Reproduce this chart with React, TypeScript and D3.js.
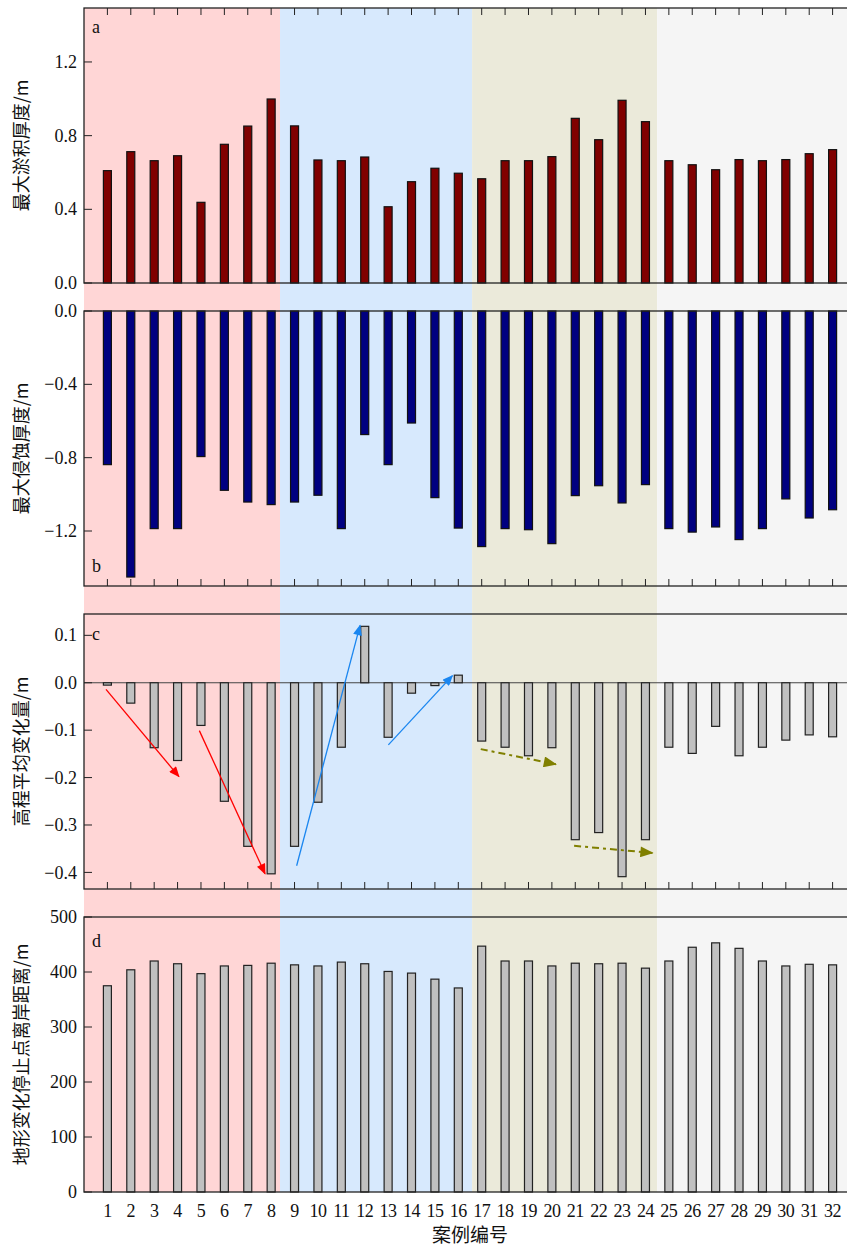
import * as d3 from 'd3'

// case numbers 1..32
const cases = d3.range(1, 33)

// a: max deposition thickness (m)
const deposition = [
  0.61, 0.713, 0.664, 0.691, 0.438, 0.753, 0.852, 0.999,
  0.853, 0.668, 0.664, 0.684, 0.414, 0.55, 0.623, 0.596,
  0.566, 0.664, 0.664, 0.686, 0.894, 0.778, 0.992, 0.876,
  0.664, 0.642, 0.615, 0.67, 0.664, 0.67, 0.702, 0.724,
]
// b: max erosion thickness (m)
const erosion = [
  -0.838, -1.451, -1.187, -1.187, -0.794, -0.978, -1.042, -1.056,
  -1.042, -1.005, -1.187, -0.674, -0.838, -0.611, -1.018, -1.184,
  -1.285, -1.187, -1.193, -1.269, -1.007, -0.953, -1.047, -0.947,
  -1.187, -1.206, -1.178, -1.247, -1.187, -1.025, -1.129, -1.084,
]
// c: mean elevation change (m)
const elevChange = [
  -0.005, -0.043, -0.137, -0.164, -0.09, -0.25, -0.345, -0.403,
  -0.345, -0.252, -0.136, 0.119, -0.115, -0.022, -0.006, 0.016,
  -0.123, -0.136, -0.154, -0.137, -0.331, -0.316, -0.409, -0.331,
  -0.136, -0.149, -0.092, -0.154, -0.136, -0.121, -0.11, -0.114,
]
// d: offshore distance where bed change stops (m)
const stopDistance = [
  375, 404, 420, 415, 397, 411, 412, 416,
  413, 411, 418, 415, 401, 398, 387, 371,
  447, 420, 420, 411, 416, 415, 416, 407,
  420, 445, 453, 443, 420, 411, 414, 413,
]

// background groups (in case units)
const groupEdges = [0, 8.38, 16.59, 24.5, 33]
const groupColors = ['#ffd6d6', '#d7e9fd', '#ebeada', '#f5f5f5']

// trend arrows in panel c: [case, value] -> [case, value]
const arrowsC = [
  { from: [0.94, -0.014], to: [4.06, -0.198], color: '#ff0000', dash: null },
  { from: [4.93, -0.101], to: [7.74, -0.403], color: '#ff0000', dash: null },
  { from: [9.09, -0.386], to: [11.8, 0.121], color: '#1a86f0', dash: null },
  { from: [13.01, -0.131], to: [15.75, 0.015], color: '#1a86f0', dash: null },
  { from: [16.96, -0.14], to: [20.17, -0.172], color: '#808000', dash: '7,4,3,4' },
  { from: [20.95, -0.344], to: [24.3, -0.359], color: '#808000', dash: '7,4,3,4' },
]

const W = 847
const H = 1247
const serif = "'Liberation Serif', 'Times New Roman', serif"
const cjk = "'Noto Sans CJK SC', sans-serif"

const x = d3.scaleLinear().domain([0, 33]).range([84, 856])

const panels = [
  {
    key: 'a', values: deposition, domain: [0, 1.493], top: 8, bottom: 283,
    ticks: [0, 0.4, 0.8, 1.2], fmt: d3.format('.1f'), fill: '#800000', stroke: '#111',
    label: '最大淤积厚度/m', letterY: 33, tickSide: 'top',
  },
  {
    key: 'b', values: erosion, domain: [-1.5, 0], top: 311, bottom: 586,
    ticks: [0, -0.4, -0.8, -1.2], fmt: d3.format('.1f'), fill: '#000080', stroke: '#111',
    label: '最大侵蚀厚度/m', letterY: 572, tickSide: 'bottom',
  },
  {
    key: 'c', values: elevChange, domain: [-0.435, 0.145], top: 614, bottom: 889,
    ticks: [0.1, 0, -0.1, -0.2, -0.3, -0.4], fmt: d3.format('.1f'), fill: '#c0c0c0', stroke: '#222',
    label: '高程平均变化量/m', letterY: 640, tickSide: 'bottom',
  },
  {
    key: 'd', values: stopDistance, domain: [0, 500], top: 917, bottom: 1192,
    ticks: [0, 100, 200, 300, 400, 500], fmt: d3.format('d'), fill: '#c0c0c0', stroke: '#222',
    label: '地形变化停止点离岸距离/m', letterY: 947, tickSide: 'bottom',
  },
]

const BAR_W = 8

function Panel({ p }: { p: (typeof panels)[number] }) {
  const y = d3.scaleLinear().domain(p.domain).range([p.bottom, p.top])
  const y0 = y(0)
  const cy = (p.top + p.bottom) / 2
  const tickY = p.tickSide === 'top' ? p.top : p.bottom
  const tickDir = p.tickSide === 'top' ? 1 : -1
  return (
    <g>
      {/* zero line for panel c */}
      {p.key === 'c' && (
        <line x1={84} x2={856} y1={y0} y2={y0} stroke="#444" strokeWidth={1.2} />
      )}
      {/* x ticks */}
      {cases.map((c) => (
        <line key={c} x1={x(c)} x2={x(c)} y1={tickY} y2={tickY + tickDir * 7} stroke="#222" strokeWidth={1} />
      ))}
      {/* bars */}
      {p.values.map((v, i) => (
        <rect
          key={i}
          x={x(cases[i]) - BAR_W / 2}
          y={Math.min(y(v), y0)}
          width={BAR_W}
          height={Math.abs(y(v) - y0)}
          fill={p.fill}
          stroke={p.stroke}
          strokeWidth={1.2}
        />
      ))}
      {/* frame */}
      <rect x={84} y={p.top} width={856 - 84} height={p.bottom - p.top} fill="none" stroke="#222" strokeWidth={1.3} />
      {/* y ticks */}
      {p.ticks.map((t) => (
        <g key={t}>
          <line x1={84} x2={92} y1={y(t)} y2={y(t)} stroke="#222" strokeWidth={1} />
          <text x={77} y={y(t)} dy="0.34em" textAnchor="end" fontFamily={serif} fontSize={18} fill="#111">
            {p.fmt(t)}
          </text>
        </g>
      ))}
      <text x={92} y={p.letterY} fontFamily={serif} fontSize={18} fill="#111">
        {p.key}
      </text>
      <text
        transform={`translate(20, ${cy}) rotate(-90)`}
        textAnchor="middle"
        dominantBaseline="central"
        fontFamily={cjk}
        fontSize={18}
        fill="#111"
      >
        {p.label}
      </text>
    </g>
  )
}

export default function App() {
  const pc = panels[2]
  const yc = d3.scaleLinear().domain(pc.domain).range([pc.bottom, pc.top])
  const markerId = (c: string) => `arrow-${c.replace('#', '')}`
  const arrowColors = Array.from(new Set(arrowsC.map((a) => a.color)))
  return (
    <div style={{ position: 'absolute', left: 0, top: 0 }}>
      <svg width={W} height={H} style={{ display: 'block', background: '#fff' }}>
        <defs>
          {arrowColors.map((c) => {
            const big = c === '#808000'
            return (
              <marker
                key={c}
                id={markerId(c)}
                markerUnits="userSpaceOnUse"
                viewBox="0 0 12 10"
                refX={11}
                refY={5}
                markerWidth={big ? 16 : 13}
                markerHeight={big ? 11 : 9}
                orient="auto"
              >
                <path d="M0,0 L12,5 L0,10 Z" fill={c} />
              </marker>
            )
          })}
        </defs>
        {/* group backgrounds */}
        {groupColors.map((c, i) => (
          <rect key={i} x={x(groupEdges[i])} y={8} width={x(groupEdges[i + 1]) - x(groupEdges[i])} height={1192 - 8} fill={c} />
        ))}
        {panels.map((p) => (
          <Panel key={p.key} p={p} />
        ))}
        {/* trend arrows */}
        {arrowsC.map((a, i) => (
          <line
            key={i}
            x1={x(a.from[0])}
            y1={yc(a.from[1])}
            x2={x(a.to[0])}
            y2={yc(a.to[1])}
            stroke={a.color}
            strokeWidth={a.dash ? 2 : 1.3}
            strokeDasharray={a.dash ?? undefined}
            markerEnd={`url(#${markerId(a.color)})`}
          />
        ))}
        {/* x tick labels */}
        {cases.map((c) => (
          <text key={c} x={x(c)} y={1217} textAnchor="middle" fontFamily={serif} fontSize={18} fill="#111" letterSpacing={-0.5}>
            {c}
          </text>
        ))}
        <text x={470} y={1242} textAnchor="middle" fontFamily={cjk} fontSize={19} fill="#111">
          案例编号
        </text>
      </svg>
    </div>
  )
}
